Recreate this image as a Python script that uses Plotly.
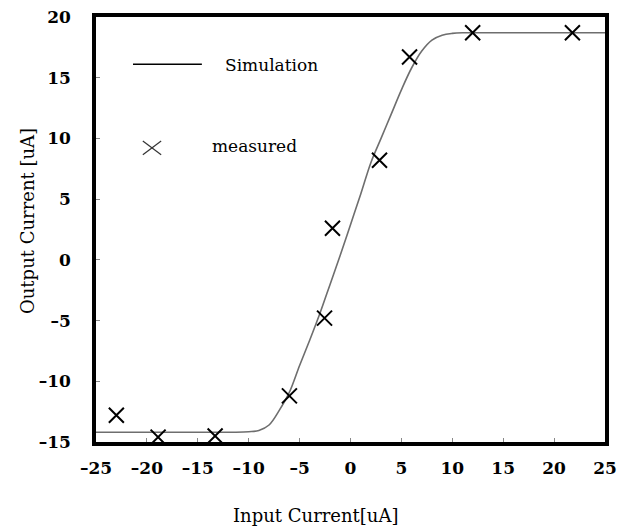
import plotly.graph_objects as go

# Simulation curve
sim_x = [-25, -15, -10, -9, -8, -7, -6, -5, -4, -3, -2, -1, 0, 1, 2, 3, 4, 5, 6, 7, 8, 9, 10, 11, 15, 20, 25]
sim_y = [-14.2, -14.2, -14.15, -14.05, -13.6, -12.4, -10.9, -8.7, -6.6, -4.4, -2.0, 0.4, 2.9, 5.4, 8.0, 10.0, 12.0, 14.0, 15.8, 17.2, 18.1, 18.5, 18.65, 18.7, 18.7, 18.7, 18.7]

# Measured points
meas_x = [-23.0, -18.9, -13.3, -6.0, -2.55, -1.77, 2.85, 5.8, 12.0, 21.8]
meas_y = [-12.8, -14.6, -14.5, -11.2, -4.8, 2.6, 8.2, 16.7, 18.7, 18.7]

x_ticks = [-25, -20, -15, -10, -5, 0, 5, 10, 15, 20, 25]
y_ticks = [-15, -10, -5, 0, 5, 10, 15, 20]

fig = go.Figure()
fig.add_trace(go.Scatter(x=sim_x, y=sim_y, mode="lines",
                         line=dict(color="#6e6e6e", width=1.6, shape="spline"),
                         name="Simulation", showlegend=False))
fig.add_trace(go.Scatter(x=meas_x, y=meas_y, mode="markers",
                         marker=dict(symbol="x-thin", size=15, color="black",
                                     line=dict(color="black", width=2)),
                         name="measured", showlegend=False))

serif = "DejaVu Serif"
axis_common = dict(showgrid=False, zeroline=False, showline=True, mirror=True,
                   linecolor="black", linewidth=3.5, ticks="inside", ticklen=4,
                   tickwidth=1, tickcolor="#888", automargin=False,
                   ticklabeloverflow="allow")

def lab(v):
    return ("\u2013" + str(-v)) if v < 0 else str(v)

fig.update_xaxes(range=[-25, 25], tickvals=x_ticks, ticktext=[lab(v) for v in x_ticks],
                 tickfont=dict(family=serif, size=17, color="black", weight="bold"),
                 ticklabelstandoff=8, **axis_common)
fig.update_yaxes(range=[-15, 20], tickvals=y_ticks, ticktext=[lab(v) for v in y_ticks],
                 tickfont=dict(family=serif, size=17, color="black", weight="bold"),
                 ticklabelstandoff=18, **axis_common)

# Manual legend
shapes = [
    dict(type="line", xref="paper", yref="paper", x0=0.0727, x1=0.208, y0=0.889, y1=0.889,
         line=dict(color="black", width=1.5)),
    dict(type="line", xref="paper", yref="paper", x0=0.092, x1=0.128, y0=0.676, y1=0.708,
         line=dict(color="#333", width=1.2)),
    dict(type="line", xref="paper", yref="paper", x0=0.092, x1=0.128, y0=0.708, y1=0.676,
         line=dict(color="#333", width=1.2)),
]
annotations = [
    dict(text="Simulation", xref="paper", yref="paper", x=0.2495, y=0.887,
         xanchor="left", yanchor="middle", showarrow=False,
         font=dict(family=serif, size=17, color="black")),
    dict(text="measured", xref="paper", yref="paper", x=0.224, y=0.696,
         xanchor="left", yanchor="middle", showarrow=False,
         font=dict(family=serif, size=17, color="black")),
    # axis titles
    dict(text="Input Current[uA]", xref="paper", yref="paper", x=0.432, y=-0.172,
         xanchor="center", yanchor="middle", showarrow=False,
         font=dict(family=serif, size=18, color="black")),
    dict(text="Output Current [uA]", xref="paper", yref="paper", x=-0.1356, y=0.52,
         xanchor="center", yanchor="middle", showarrow=False, textangle=-90,
         font=dict(family=serif, size=18, color="black")),
]

# page body has an 8px margin, so size/margins compensate for it
fig.update_layout(width=613, height=522, margin=dict(l=88, r=16, t=9, b=88),
                  plot_bgcolor="white", paper_bgcolor="white",
                  shapes=shapes, annotations=annotations, showlegend=False)

fig.write_html("out.html")
